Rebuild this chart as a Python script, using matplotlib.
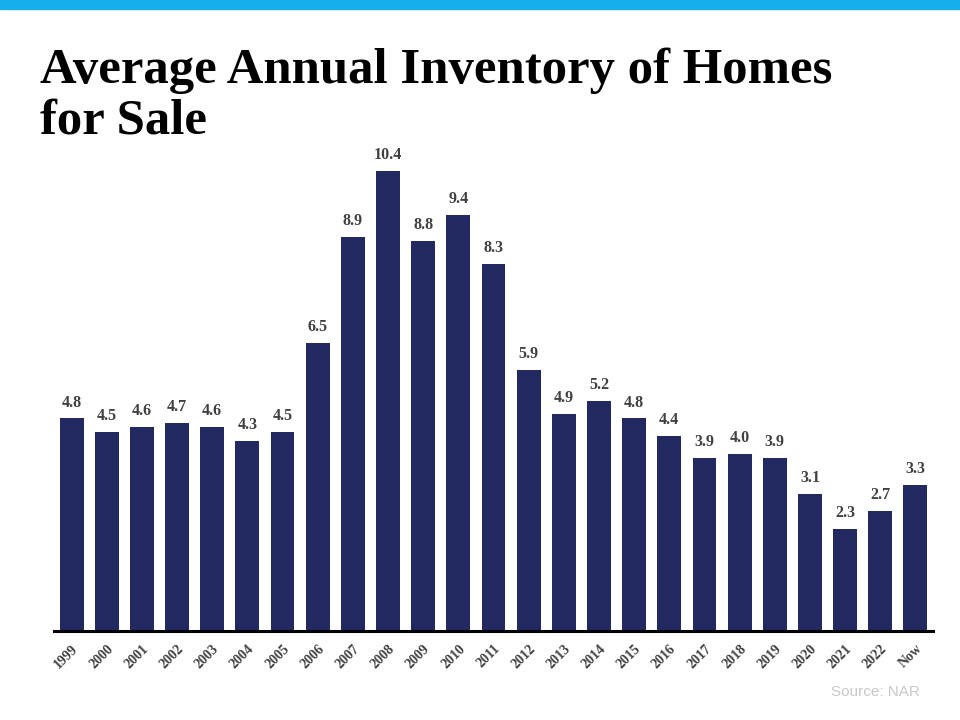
import numpy as np
import matplotlib.pyplot as plt
from matplotlib.patches import Rectangle

years = ['1999', '2000', '2001', '2002', '2003', '2004', '2005', '2006', '2007',
         '2008', '2009', '2010', '2011', '2012', '2013', '2014', '2015', '2016',
         '2017', '2018', '2019', '2020', '2021', '2022', 'Now']
inventory = [4.8, 4.5, 4.6, 4.7, 4.6, 4.3, 4.5, 6.5, 8.9, 10.4, 8.8, 9.4, 8.3,
             5.9, 4.9, 5.2, 4.8, 4.4, 3.9, 4.0, 3.9, 3.1, 2.3, 2.7, 3.3]
title_lines = ['Average Annual Inventory of Homes', 'for Sale']

bar_color = '#222860'
label_color = '#404040'

fig = plt.figure(figsize=(9.6, 7.2), dpi=100)

# light blue band across the top
fig.patches.append(Rectangle((0, 1 - 9 / 720), 1, 9 / 720, transform=fig.transFigure,
                             color='#17aeed', zorder=0))

for i, line in enumerate(title_lines):
    fig.text(40 / 960, 1 - (83 + 50 * i) / 720, line,
             family='Liberation Serif', weight='bold', fontsize=36.5,
             va='baseline', ha='left')

ax = fig.add_axes([54 / 960, 89 / 720, 879 / 960, 487 / 720])
x = np.arange(len(years))
ax.bar(x, inventory, width=0.68, color=bar_color, zorder=2)

for xi, v in zip(x, inventory):
    ax.text(xi, v + 0.18, f'{v:.1f}', ha='center', va='bottom',
            family='Liberation Serif', weight='bold', fontsize=11.5, color=label_color)

ax.set_xlim(-0.5, len(years) - 0.5)
ax.set_ylim(0, 11)
ax.set_xticks(x)
ax.set_xticklabels(years, rotation=45, ha='right', rotation_mode='anchor',
                   family='Liberation Serif', weight='bold', fontsize=10, color=label_color)
ax.tick_params(axis='x', length=0, pad=8)
ax.set_yticks([])
for side in ['top', 'right', 'left']:
    ax.spines[side].set_visible(False)
ax.spines['bottom'].set_linewidth(2.2)
ax.spines['bottom'].set_color('black')

fig.text(920 / 960, 1 - 692 / 720, 'Source: NAR', family='Liberation Sans',
         fontsize=11, color='#c8c8c8', ha='right', va='center')

fig.savefig('out.png', dpi=100)
